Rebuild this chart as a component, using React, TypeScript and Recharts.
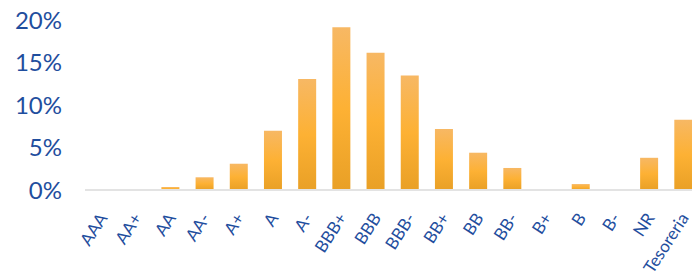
import { BarChart, Bar, XAxis, YAxis } from 'recharts';

const ratings = ['AAA', 'AA+', 'AA', 'AA-', 'A+', 'A', 'A-', 'BBB+', 'BBB', 'BBB-', 'BB+', 'BB', 'BB-', 'B+', 'B', 'B-', 'NR', 'Tesoreria'];
const weights = [0, 0, 0.35, 1.5, 3.1, 7.0, 13.1, 19.2, 16.2, 13.5, 7.2, 4.4, 2.6, 0, 0.7, 0, 3.8, 8.3];
const yTicks = [0, 5, 10, 15, 20];

const data = ratings.map((name, i) => ({ name, value: weights[i] }));

const blue = '#1f4e9e';

function RatingTick({ x, y, payload }: any) {
    return (
        <g transform={`translate(${x + 6},${y + 20})`}>
            <text
                transform="rotate(-57)"
                textAnchor="end"
                fill={blue}
                fontSize={17}
                fontFamily="Lato, sans-serif"
            >
                {payload.value}
            </text>
        </g>
    );
}

export default function App() {
    return (
        <div style={{ position: 'absolute', left: 0, top: 0, width: 692, height: 279, overflow: 'hidden', background: '#fff' }}>
            <BarChart
                width={710}
                height={279}
                data={data}
                margin={{ top: 20.5, right: 9.5, bottom: 0, left: 0 }}
                barSize={18}
            >
                <defs>
                    <linearGradient id="barGrad" x1="0" y1="0" x2="0" y2="1">
                        <stop offset="0%" stopColor="#f7b864" />
                        <stop offset="50%" stopColor="#fdb134" />
                        <stop offset="100%" stopColor="#e9a026" />
                    </linearGradient>
                </defs>
                <XAxis
                    dataKey="name"
                    interval={0}
                    axisLine={{ stroke: '#e3e3e3', strokeWidth: 2 }}
                    tickLine={false}
                    tick={<RatingTick />}
                    height={89}
                />
                <YAxis
                    width={85}
                    domain={[0, 20]}
                    ticks={yTicks}
                    interval={0}
                    tickFormatter={(v: number) => `${v}%`}
                    axisLine={false}
                    tickLine={false}
                    tickSize={0}
                    tickMargin={23}
                    tick={{ fill: blue, fontSize: 24, fontFamily: 'Lato, sans-serif' }}
                />
                <Bar dataKey="value" fill="url(#barGrad)" isAnimationActive={false} />
            </BarChart>
        </div>
    );
}
